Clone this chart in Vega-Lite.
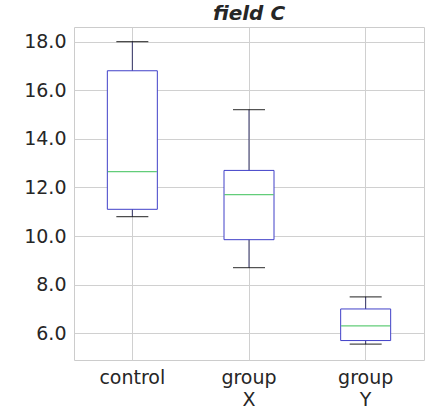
{
  "$schema": "https://vega.github.io/schema/vega-lite/v6.json",
  "autosize": {"type": "none"},
  "padding": {"left": 74, "top": 27, "right": 9, "bottom": 58},
  "width": 350,
  "height": 333,
  "background": "white",
  "title": {"text": "field C", "fontSize": 20, "fontStyle": "italic", "fontWeight": "bold", "font": "DejaVu Sans", "color": "#262626", "offset": 3},
  "config": {
    "view": {"stroke": "#cccccc", "strokeWidth": 1},
    "axis": {"labelFont": "DejaVu Sans", "labelFontSize": 19, "labelColor": "#262626", "domain": false, "ticks": false, "gridColor": "#d0d0d0", "title": null, "labelPadding": 8}
  },
  "data": {"values": [
    {"group": "control", "min": 10.8, "q1": 11.1, "median": 12.65, "q3": 16.8, "max": 18.0},
    {"group": "group X", "min": 8.7, "q1": 9.85, "median": 11.7, "q3": 12.7, "max": 15.2},
    {"group": "group Y", "min": 5.55, "q1": 5.7, "median": 6.3, "q3": 7.0, "max": 7.5}
  ]},
  "encoding": {
    "x": {"field": "group", "type": "nominal", "sort": null, "scale": {"paddingInner": 0, "paddingOuter": 0},
      "axis": {"labelAngle": 0, "grid": true, "labelExpr": "split(datum.label, ' ')", "labelLineHeight": 22}}
  },
  "layer": [
    {"mark": {"type": "rule", "color": "#333366", "strokeWidth": 1},
     "encoding": {"y": {"field": "min", "type": "quantitative", "scale": {"domain": [4.9, 18.6], "nice": false, "zero": false},
        "axis": {"values": [6, 8, 10, 12, 14, 16, 18], "format": ".1f", "grid": true}},
      "y2": {"field": "max"}}},
    {"mark": {"type": "bar", "fill": "white", "stroke": "#4040c8", "strokeWidth": 1, "size": 50},
     "encoding": {"y": {"field": "q1", "type": "quantitative"}, "y2": {"field": "q3"}}},
    {"mark": {"type": "tick", "color": "#000000", "size": 32, "thickness": 1.2},
     "encoding": {"y": {"field": "min", "type": "quantitative"}}},
    {"mark": {"type": "tick", "color": "#000000", "size": 32, "thickness": 1.2},
     "encoding": {"y": {"field": "max", "type": "quantitative"}}},
    {"mark": {"type": "tick", "color": "#1fb840", "size": 49, "thickness": 1.2},
     "encoding": {"y": {"field": "median", "type": "quantitative"}}}
  ]
}
